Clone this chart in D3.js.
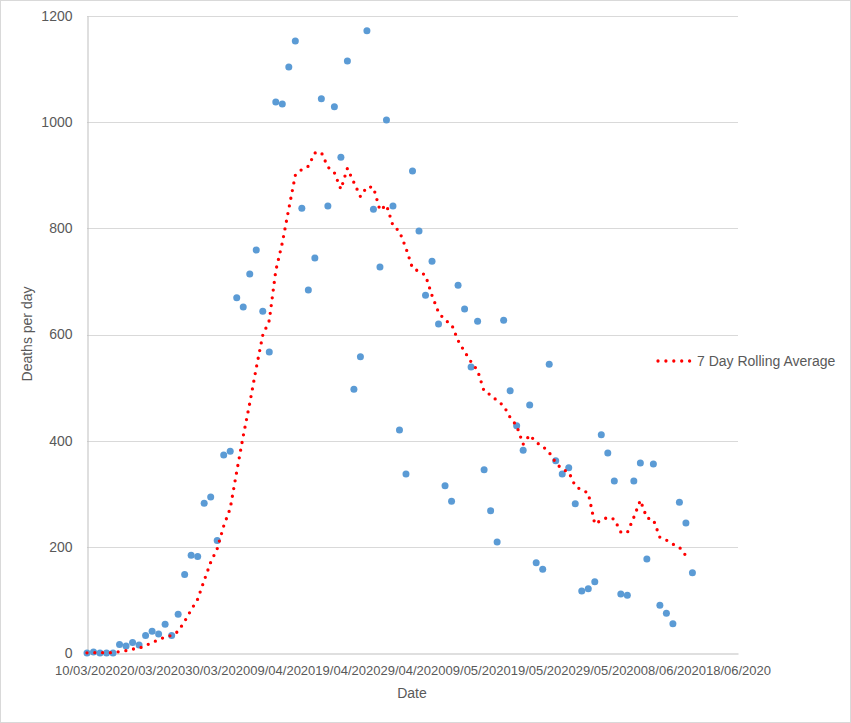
<!DOCTYPE html>
<html>
<head>
<meta charset="utf-8">
<script src="https://cdn.jsdelivr.net/npm/d3@7"></script>
<style>
html,body{margin:0;padding:0;background:#fff;}
svg{display:block;}
text{font-family:"Liberation Sans",Arial,sans-serif;fill:#595959;}
</style>
</head>
<body>
<svg id="chart" width="851" height="723"></svg>
<script>
// ---- data ----
const startDate = "2020-03-10";
const dailyDeaths = [
  0,2,0,0,0,16,13,20,15,33,
  41,36,54,33,73,148,184,182,282,294,
  212,373,380,669,652,714,759,644,567,1038,
  1034,1104,1153,838,684,744,1044,842,1029,934,
  1115,497,558,1172,836,727,1004,842,420,337,
  908,795,674,738,620,315,286,693,648,539,
  625,345,268,209,627,494,428,382,467,170,
  158,544,362,337,349,281,117,121,134,411,
  377,324,111,109,324,358,177,356,90,75,
  55,284,245,151
];
const rollingAvg = [
  0.4,0.7,0.7,0.7,0.7,2.6,4.4,7.3,9.1,13.9,
  19.7,24.9,30.3,33.1,40.7,59.7,81.3,101.4,136.6,170.9,
  196.4,239.3,272.4,341.7,408.9,470.6,537,598.7,626.4,720.4,
  772.6,837.1,899.9,911.1,916.9,942.1,943,915.6,904.9,873.6,
  913.1,886.4,859.9,878.1,877.3,834.1,844.1,805.1,794.1,762.6,
  724.9,719,711.4,673.4,641.7,626.7,619.4,588.7,567.7,548.4,
  532.3,493,486.3,475.3,465.9,443.9,428,393.3,410.7,396.7,
  389.4,377.6,358.7,345.7,341,314.4,306.9,301.6,243,250,
  255.7,252.1,227.9,226.7,255.7,287.7,254.3,251.3,217.9,212.7,
  205,199.3,183.1
];
const xTickLabels = ["10/03/2020","20/03/2020","30/03/2020","09/04/2020","19/04/2020","29/04/2020","09/05/2020","19/05/2020","29/05/2020","08/06/2020","18/06/2020"];
const yTicks = [0,200,400,600,800,1000,1200];
const seriesName = "7 Day Rolling Average";
const xTitle = "Date";
const yTitle = "Deaths per day";

// ---- chart ----
const svg = d3.select("#chart");
const parse = d3.utcParse("%d/%m/%Y");
const day0 = d3.utcParse("%Y-%m-%d")(startDate);
const dateOf = i => d3.utcDay.offset(day0, i);
const tickDates = xTickLabels.map(parse);

const x = d3.scaleUtc().domain([tickDates[0], tickDates[tickDates.length-1]]).range([87, 738]);
const y = d3.scaleLinear().domain([0, 1200]).range([653, 16]);

// outer border
svg.append("rect").attr("x",0.5).attr("y",0.5).attr("width",850).attr("height",722)
  .attr("fill","#fff").attr("stroke","#d9d9d9");

// gridlines
svg.append("g").selectAll("line").data(yTicks.filter(d=>d>0)).join("line")
  .attr("x1",87).attr("x2",738)
  .attr("y1",d=>Math.round(y(d))+0.5).attr("y2",d=>Math.round(y(d))+0.5)
  .attr("stroke","#d9d9d9").attr("stroke-width",1);

// y axis
const yAxis = d3.axisLeft(y).tickValues(yTicks).tickFormat(d3.format("d")).tickSize(0).tickPadding(15);
const gy = svg.append("g").attr("transform","translate(87.5,0)").call(yAxis);
gy.select(".domain").attr("stroke","#bfbfbf");
gy.selectAll("text").style("font-size","14px").attr("fill","#595959")
  .style("font-family","'Liberation Sans',Arial,sans-serif");

// x axis
const xAxis = d3.axisBottom(x).tickValues(tickDates).tickFormat((d,i)=>xTickLabels[i]).tickSize(0).tickPadding(12);
const gx = svg.append("g").attr("transform","translate(0,653.5)").call(xAxis);
gx.select(".domain").attr("stroke","#bfbfbf");
gx.selectAll("text").style("font-size","13px").attr("fill","#595959")
  .style("font-family","'Liberation Sans',Arial,sans-serif");

// axis titles
svg.append("text").attr("x",412).attr("y",698).attr("text-anchor","middle")
  .style("font-size","14px").text(xTitle);
svg.append("text").attr("transform","translate(32,334) rotate(-90)").attr("text-anchor","middle")
  .style("font-size","14px").text(yTitle);

// scatter
svg.append("g").selectAll("circle").data(dailyDeaths).join("circle")
  .attr("cx",(d,i)=>x(dateOf(i))).attr("cy",d=>y(d)).attr("r",3.5)
  .attr("fill","#5b9bd5");

// rolling average
const line = d3.line().x((d,i)=>x(dateOf(i))).y(d=>y(d));
svg.append("path").datum(rollingAvg).attr("d",line)
  .attr("fill","none").attr("stroke","#ff0000").attr("stroke-width",3.3)
  .attr("stroke-linecap","round").attr("stroke-dasharray","0,7.8");

// legend
svg.append("line").attr("x1",658).attr("x2",691).attr("y1",361).attr("y2",361)
  .attr("stroke","#ff0000").attr("stroke-width",3.3)
  .attr("stroke-linecap","round").attr("stroke-dasharray","0,7.9");
svg.append("text").attr("x",697).attr("y",366).style("font-size","14px").text(seriesName);
</script>
</body>
</html>
